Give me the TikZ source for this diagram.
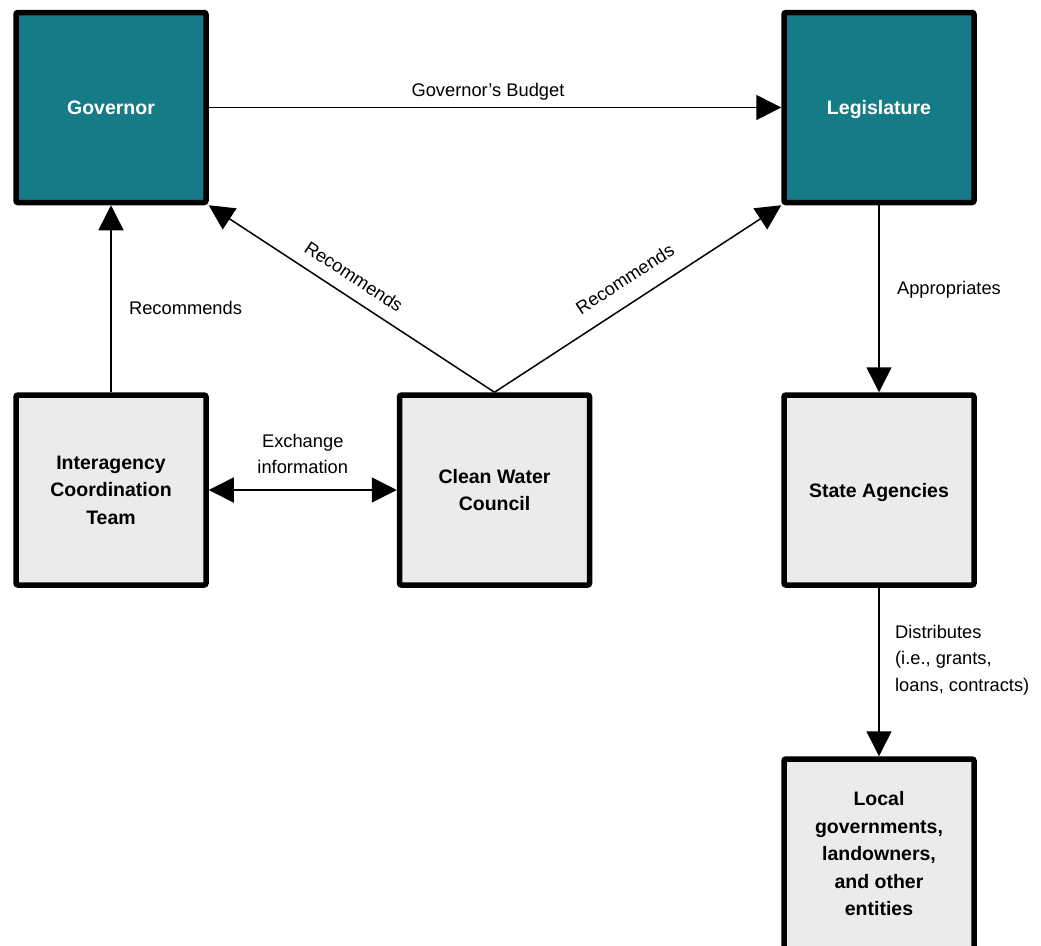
\documentclass[tikz,border=0pt]{standalone}
\usepackage{fontspec}
\setmainfont{Liberation Sans}
\usetikzlibrary{arrows.meta,shapes}
\definecolor{govteal}{HTML}{157C87}
\definecolor{boxgray}{HTML}{EBEBEB}

\begin{document}
\begin{tikzpicture}[x=1pt,y=-1pt,>={Triangle[length=25pt,width=25pt]}]
  \tikzstyle{branch}=[rectangle,rounded corners=2pt,line width=5.5pt,draw=black,fill=govteal,text=white,minimum size=190pt,align=center,font=\fontsize{19.5}{27.5}\selectfont\bfseries]
  \tikzstyle{body}=[branch,fill=boxgray,text=black]
  \tikzstyle{flow}=[->,line width=1.5pt]
  \tikzstyle{lbl}=[align=left,font=\fontsize{18.3}{26.5}\selectfont]

    \useasboundingbox (0,0) rectangle (1041,945);
    \node [branch] (gov) at (111,107.5) {Governor}; %top row
    \node [branch,text depth=0pt] (leg) [right of=gov,node distance=768pt] {Legislature};
    \node [body] (ict)   [below of=gov,node distance=382.5pt] {Interagency\\Coordination\\Team};
    \node [body] (cwc)   [right of=ict,node distance=383.5pt] {Clean Water\\Council};
    \node [body,text depth=0pt] (sa) [below of=leg,node distance=382.5pt] {State Agencies};
    \node [body] (local) [below of=sa,node distance=364pt] {Local\\governments,\\landowners,\\and other\\entities};

    \draw [flow] (gov) -- node [lbl,above=3pt,xshift=-7pt] {Governor’s Budget} (leg);
    \draw [flow] (ict) -- node [lbl,pos=0.45,right=14pt] {Recommends} (gov);
    \draw [flow] (cwc.north) -- node [lbl,pos=0.53,sloped,above=9pt] {Recommends} (gov.south east);
    \draw [flow] (cwc.north) -- node [lbl,pos=0.5,sloped,above=13pt] {Recommends} (leg.south west);
    \draw [flow,<->] (ict) -- node [lbl,align=center,above=12pt] {Exchange\\information} (cwc);
    \draw [flow] (leg) -- node [lbl,pos=0.45,right=14pt] {Appropriates} (sa);
    \draw [flow] (sa) -- node [lbl,pos=0.43,right=12pt] {Distributes\\(i.e., grants,\\loans, contracts)} (local);
\end{tikzpicture}
\end{document}
